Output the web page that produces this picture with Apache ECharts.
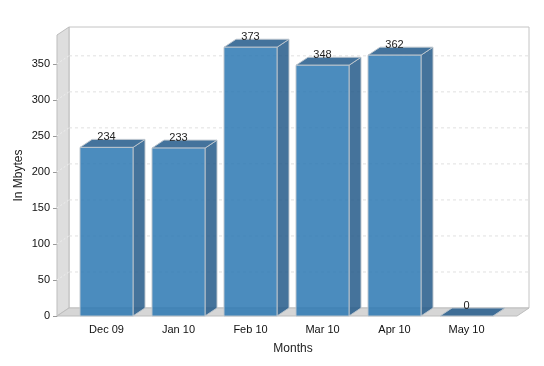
<!DOCTYPE html>
<html>
<head>
<meta charset="utf-8">
<script src="https://cdn.jsdelivr.net/npm/echarts@6/dist/echarts.min.js"></script>
<style>html,body{margin:0;padding:0;background:#fff}#c{width:544px;height:366px}</style>
</head>
<body>
<div id="c"></div>
<script>
var categories = ['Dec 09', 'Jan 10', 'Feb 10', 'Mar 10', 'Apr 10', 'May 10'];
var values = [234, 233, 373, 348, 362, 0];
var yTicks = [0, 50, 100, 150, 200, 250, 300, 350];
var yMax = 390;

var FONT = 'Liberation Sans, Arial, sans-serif';
var DX = 12, DY = 8;           // 3D depth offset
var BAR_RATIO = 53 / 72;       // front face width / band
var EXT_L = 13.5, EXT_R = 14.5; // wall extension beyond category range

function renderWalls(params, api) {
  var cs = params.coordSys;
  var fl = cs.x - EXT_L, fr = cs.x + cs.width + EXT_R;
  var yTop = api.coord([0, yMax])[1];
  var y0 = api.coord([0, 0])[1];
  var ch = [];
  // back wall
  ch.push({type: 'rect', shape: {x: fl + DX, y: yTop - DY, width: fr - fl, height: y0 - yTop},
    style: {fill: '#ffffff', stroke: '#c4c4c4', lineWidth: 1}});
  // left wall
  ch.push({type: 'polygon', shape: {points: [[fl, yTop], [fl + DX, yTop - DY], [fl + DX, y0 - DY], [fl, y0]]},
    style: {fill: '#dedede', stroke: '#bdbdbd', lineWidth: 1}});
  // floor
  ch.push({type: 'polygon', shape: {points: [[fl, y0], [fl + DX, y0 - DY], [fr + DX, y0 - DY], [fr, y0]]},
    style: {fill: '#d6d6d6', stroke: '#bdbdbd', lineWidth: 1}});
  // grid lines
  yTicks.forEach(function (t) {
    if (t === 0) return;
    var y = api.coord([0, t])[1];
    ch.push({type: 'line', shape: {x1: fl + DX, y1: y - DY, x2: fr + DX, y2: y - DY},
      style: {stroke: '#e0e0e0', lineWidth: 1, lineDash: [3, 3]}});
    ch.push({type: 'line', shape: {x1: fl, y1: y, x2: fl + DX, y2: y - DY},
      style: {stroke: '#eeeeee', lineWidth: 1, lineDash: [2, 2]}});
  });
  return {type: 'group', children: ch};
}

function renderBar(params, api) {
  var i = api.value(0), v = api.value(1);
  var top = api.coord([i, v]);
  var base = api.coord([i, 0]);
  var band = api.size([1, 0])[0];
  var w = band * BAR_RATIO;
  var x0 = top[0] - w / 2, x1 = top[0] + w / 2, yT = top[1], yB = base[1];
  var stroke = 'rgba(190,198,206,0.95)';
  var ch = [];
  // side face
  ch.push({type: 'polygon', shape: {points: [[x1, yT], [x1 + DX, yT - DY], [x1 + DX, yB - DY], [x1, yB]]},
    style: {fill: 'rgba(36,90,138,0.85)', stroke: stroke, lineWidth: 1}});
  // top face
  ch.push({type: 'polygon', shape: {points: [[x0, yT], [x0 + DX, yT - DY], [x1 + DX, yT - DY], [x1, yT]]},
    style: {fill: 'rgba(35,91,139,0.85)', stroke: stroke, lineWidth: 1}});
  // front face
  if (yB - yT > 0.5) {
    ch.push({type: 'rect', shape: {x: x0, y: yT, width: w, height: yB - yT},
      style: {fill: 'rgba(43,120,179,0.85)', stroke: stroke, lineWidth: 1}});
  }
  // value label
  ch.push({type: 'text', z2: 10, style: {text: String(v), x: top[0], y: yT - 10, align: 'center', verticalAlign: 'middle',
    fill: '#222', font: '11px ' + FONT}});
  return {type: 'group', children: ch};
}

var chart = echarts.init(document.getElementById('c'), null, {renderer: 'canvas'});
chart.setOption({
  animation: false,
  backgroundColor: '#ffffff',
  grid: {left: 70.5, right: 41.5, top: 35, bottom: 50, containLabel: false},
  xAxis: {
    type: 'category', data: categories,
    name: 'Months', nameLocation: 'middle', nameGap: 27,
    nameTextStyle: {fontFamily: FONT, fontSize: 12, color: '#222', padding: [0, 0, 0, 13]},
    axisLine: {show: false}, axisTick: {show: false},
    axisLabel: {margin: 8, fontFamily: FONT, fontSize: 11, color: '#111'}
  },
  yAxis: {
    type: 'value', min: 0, max: yMax, interval: 50, offset: EXT_L,
    name: 'In Mbytes', nameLocation: 'middle', nameGap: 32, nameRotate: 90, nameMoveOverlap: false,
    nameTextStyle: {fontFamily: FONT, fontSize: 12, color: '#222'},
    axisLine: {show: true, lineStyle: {color: '#bdbdbd'}},
    axisTick: {show: true, length: 4, lineStyle: {color: '#999'}},
    axisLabel: {margin: 7, fontFamily: FONT, fontSize: 11, color: '#111', showMaxLabel: false},
    splitLine: {show: false}
  },
  series: [
    {type: 'custom', renderItem: renderWalls, data: [[0, 0]], clip: false, silent: true, z: 1},
    {type: 'custom', renderItem: renderBar, clip: false, z: 2,
      encode: {x: 0, y: 1},
      data: values.map(function (v, i) { return [i, v]; })}
  ]
});
</script>
</body>
</html>
